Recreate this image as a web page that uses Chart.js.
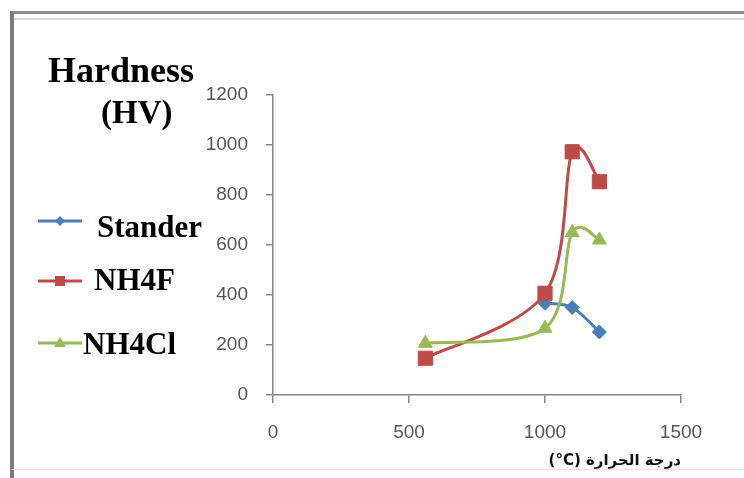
<!DOCTYPE html>
<html>
<head>
<meta charset="utf-8">
<script src="https://cdn.jsdelivr.net/npm/chart.js"></script>
<style>
    html, body { margin: 0; padding: 0; background: #fff; }
    #wrap { position: relative; width: 744px; height: 478px; overflow: hidden; }
    #frame {
        position: absolute; left: 10px; top: 11px; right: -10px; bottom: 8px;
        border-left: 4px solid #7b7b7b; border-top: 3px solid #8c8c8c;
        border-bottom: 1px solid #e6e6e6;
        box-shadow: inset 0 4px 0 #fff, inset 0 6px 0 #d9d9d9;
        pointer-events: none;
    }
    #frameEdge { position: absolute; left: 10px; top: 470px; width: 4px; height: 8px; background: #7b7b7b; }
    canvas { position: absolute; left: 0; top: 0; }
</style>
</head>
<body>
<div id="wrap">
    <canvas id="hardnessChart" width="744" height="478"></canvas>
    <div id="frame"></div>
    <div id="frameEdge"></div>
</div>
<script>
// datos
const seriesNames = ['Stander', 'NH4F', 'NH4Cl'];
const temps = [560, 1000, 1100, 1200];
const standerTemps = [1000, 1100, 1200];
const standerHV = [367, 350, 252];
const nh4fHV = [147, 407, 973, 853];
const nh4clHV = [207, 267, 650, 620];
const xTicks = [0, 500, 1000, 1500];
const yTicks = [0, 200, 400, 600, 800, 1000, 1200];
const chartTitle = ['Hardness', '(HV)'];
const xTitle = '(°C) درجة الحرارة';

const colors = ['#4a7ebb', '#be4b48', '#98b954'];
const toPoints = (xs, ys) => xs.map((x, i) => ({ x: x, y: ys[i] }));

// suavizado tipo Excel: puntos de control a 1/6 de la cuerda vecina
const excelSmooth = {
    id: 'excelSmooth',
    beforeDatasetDraw(chart, args) {
        const meta = args.meta;
        if (!meta.dataset) return;
        meta.dataset.updateControlPoints(chart.chartArea);
        const pts = meta.data;
        pts.forEach((p, i) => {
            const prev = pts[i - 1] || p;
            const next = pts[i + 1] || p;
            const dx = (next.x - prev.x) / 6;
            const dy = (next.y - prev.y) / 6;
            p.cp1x = p.x - dx; p.cp1y = p.y - dy;
            p.cp2x = p.x + dx; p.cp2y = p.y + dy;
        });
        meta.dataset._path = undefined;
    }
};

// titulo y leyenda a la izquierda, como en el original
const sideLegend = {
    id: 'sideLegend',
    afterDraw(chart) {
        const ctx = chart.ctx;
        ctx.save();
        ctx.fillStyle = '#000';
        ctx.textBaseline = 'alphabetic';
        ctx.textAlign = 'left';
        ctx.font = 'bold 36px "Liberation Serif", "Times New Roman", serif';
        ctx.fillText(chartTitle[0], 48, 82);
        ctx.font = 'bold 33px "Liberation Serif", "Times New Roman", serif';
        ctx.fillText(chartTitle[1], 101, 123);

        const rows = [
            { lineY: 221, textX: 97, baseY: 237 },
            { lineY: 281, textX: 94, baseY: 290 },
            { lineY: 343, textX: 83, baseY: 354 }
        ];
        chart.data.datasets.forEach((ds, i) => {
            const r = rows[i];
            ctx.strokeStyle = ds.borderColor;
            ctx.lineWidth = 3;
            ctx.beginPath();
            ctx.moveTo(38, r.lineY);
            ctx.lineTo(82, r.lineY);
            ctx.stroke();
            ctx.fillStyle = ds.borderColor;
            ctx.beginPath();
            if (ds.pointStyle === 'rectRot') {
                ctx.moveTo(60, r.lineY - 5); ctx.lineTo(65, r.lineY);
                ctx.lineTo(60, r.lineY + 5); ctx.lineTo(55, r.lineY);
            } else if (ds.pointStyle === 'rect') {
                ctx.rect(55, r.lineY - 5, 10, 10);
            } else {
                ctx.moveTo(60, r.lineY - 6); ctx.lineTo(66, r.lineY + 4);
                ctx.lineTo(54, r.lineY + 4);
            }
            ctx.closePath();
            ctx.fill();
            ctx.fillStyle = '#000';
            ctx.font = 'bold 31px "Liberation Serif", "Times New Roman", serif';
            ctx.fillText(ds.label, r.textX, r.baseY);
        });
        ctx.restore();
    }
};

const axisColor = '#868686';
const tickFont = { family: '"Liberation Sans", Arial, sans-serif', size: 19 };

new Chart(document.getElementById('hardnessChart').getContext('2d'), {
    type: 'line',
    data: {
        datasets: [
            {
                label: seriesNames[0],
                data: toPoints(standerTemps, standerHV),
                borderColor: colors[0], backgroundColor: colors[0],
                pointStyle: 'rectRot', pointRadius: 7, order: 2
            },
            {
                label: seriesNames[1],
                data: toPoints(temps, nh4fHV),
                borderColor: colors[1], backgroundColor: colors[1],
                pointStyle: 'rect', pointRadius: 10, order: 1
            },
            {
                label: seriesNames[2],
                data: toPoints(temps, nh4clHV),
                borderColor: colors[2], backgroundColor: colors[2],
                pointStyle: 'triangle', pointRadius: 8, order: 0
            }
        ]
    },
    options: {
        responsive: false,
        animation: false,
        devicePixelRatio: 1,
        layout: { padding: { left: 0, right: 63, top: 95, bottom: 0 } },
        elements: {
            line: { borderWidth: 3, tension: 0.4, fill: false, capBezierPoints: false },
            point: { borderWidth: 1 }
        },
        plugins: {
            legend: { display: false },
            tooltip: { enabled: false }
        },
        scales: {
            x: {
                type: 'linear',
                min: xTicks[0], max: xTicks[xTicks.length - 1],
                afterBuildTicks: (scale) => { scale.ticks = xTicks.map(v => ({ value: v })); },
                afterFit: (scale) => { scale.height = 83; },
                grid: { drawOnChartArea: false, tickLength: 8, color: axisColor, lineWidth: 1.5 },
                border: { color: axisColor, width: 1.5 },
                ticks: { color: '#555', font: tickFont, padding: 18, maxRotation: 0, callback: (v) => String(v) },
                title: {
                    display: true, text: xTitle, align: 'end', color: '#111',
                    font: { family: '"DejaVu Sans", sans-serif', size: 15, weight: 'bold' },
                    padding: { top: 0, bottom: 8 }
                }
            },
            y: {
                min: yTicks[0], max: yTicks[yTicks.length - 1],
                afterBuildTicks: (scale) => { scale.ticks = yTicks.map(v => ({ value: v })); },
                afterFit: (scale) => { scale.width = 273; },
                grid: { drawOnChartArea: false, tickLength: 7, color: axisColor, lineWidth: 1.5 },
                border: { color: axisColor, width: 1.5 },
                ticks: { color: '#555', font: tickFont, padding: 18, callback: (v) => String(v) }
            }
        }
    },
    plugins: [excelSmooth, sideLegend]
});
</script>
</body>
</html>
